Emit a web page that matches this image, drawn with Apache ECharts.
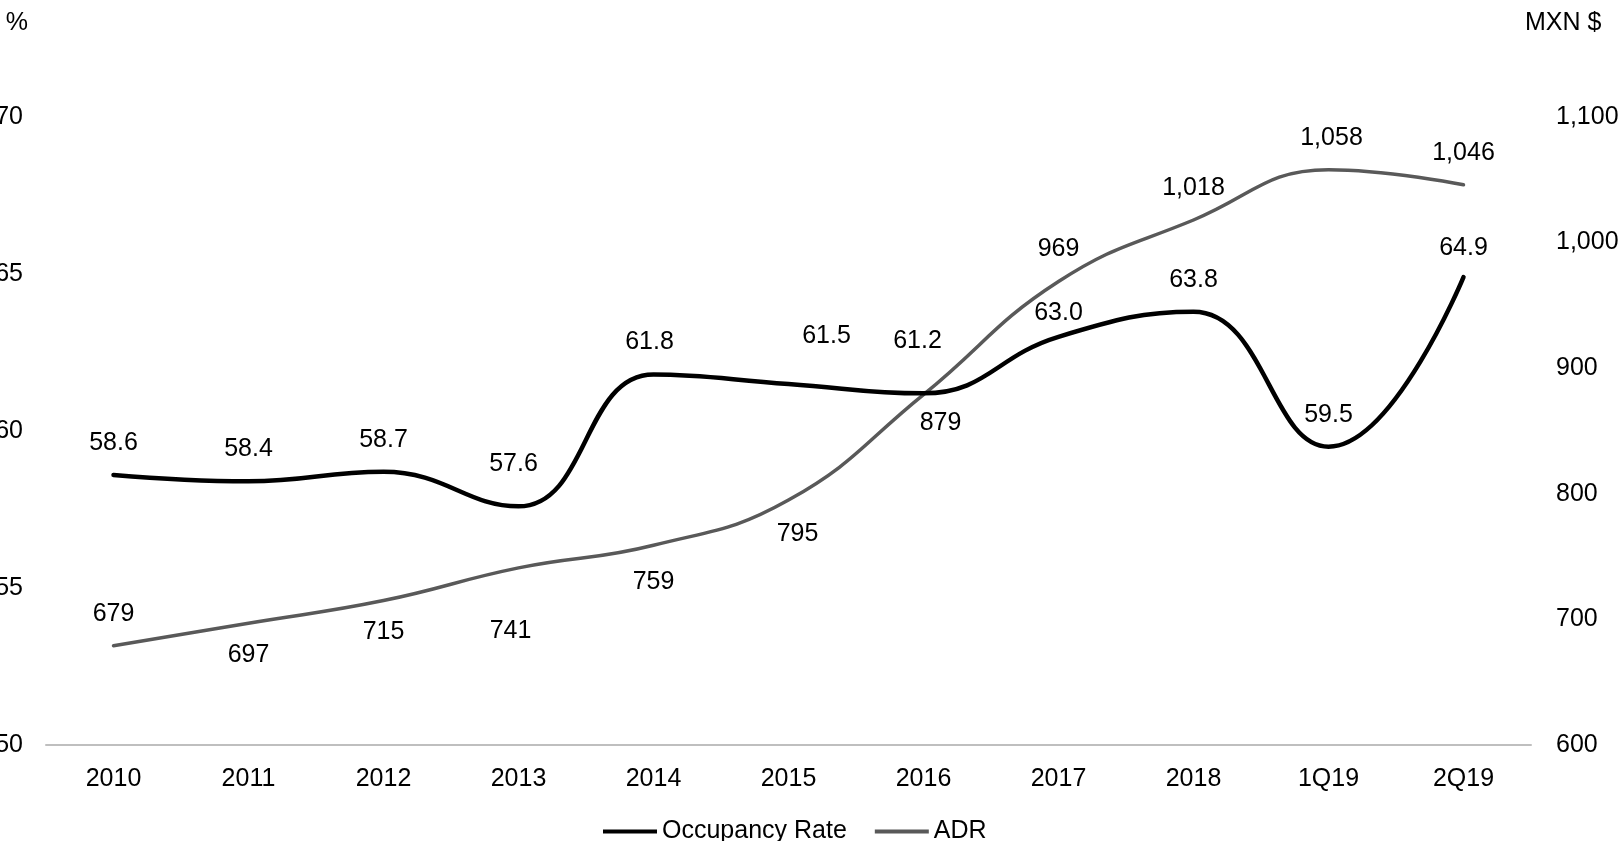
<!DOCTYPE html>
<html>
<head>
<meta charset="utf-8">
<script src="https://cdn.jsdelivr.net/npm/echarts@6/dist/echarts.min.js"></script>
<style>
  html, body { margin: 0; padding: 0; background: #fff; }
  #chart { width: 1623px; height: 841px; }
</style>
</head>
<body>
<div id="chart"></div>
<script>
// Categories and values
const categories = ['2010', '2011', '2012', '2013', '2014', '2015', '2016', '2017', '2018', '1Q19', '2Q19'];
const occupancyRate = [58.6, 58.4, 58.7, 57.6, 61.8, 61.5, 61.2, 63.0, 63.8, 59.5, 64.9];
const adr = [679, 697, 715, 741, 759, 795, 879, 969, 1018, 1058, 1046];

// Axis ranges and tick spacing
const leftAxis = { min: 50, max: 70, interval: 5 };
const rightAxis = { min: 600, max: 1100, interval: 100 };

// Label placement per point: [position, dx, dy]
const occLabelPlace = [
  ['top', 0, 0], ['top', 0, 0], ['top', 0, 0], ['top', -5, -10], ['top', -4, 0],
  ['top', 38, -16], ['top', -6, -20], ['top', 0, 8], ['top', 0, 0], ['top', 0, 0], ['top', 0, 3]
];
const adrLabelPlace = [
  ['top', 0, 0], ['bottom', 0, 0], ['bottom', 0, 0], ['bottom', -8, 31], ['bottom', 0, 5],
  ['bottom', 9, 2], ['bottom', 17, -3], ['top', 0, 0], ['top', 0, 0], ['top', 3, 0], ['top', 0, 0]
];

const FONT = 'Liberation Sans, Arial, sans-serif';
const FS = 25;
const OCC_COLOR = '#000000';
const ADR_COLOR = '#595959';

function fmtThousands(v) {
  return Math.round(v).toString().replace(/\B(?=(\d{3})+(?!\d))/g, ',');
}

function withLabels(values, places) {
  return values.map((v, i) => ({
    value: v,
    label: {
      position: places[i][0],
      offset: [places[i][1], places[i][2]]
    }
  }));
}

const chart = echarts.init(document.getElementById('chart'), null, { renderer: 'canvas' });

chart.setOption({
  backgroundColor: '#ffffff',
  animation: false,
  textStyle: { fontFamily: FONT },
  grid: { left: 46, right: 92, top: 117, bottom: 96, containLabel: false, outerBoundsMode: 'none' },
  legend: {
    left: 598,
    top: 814,
    itemWidth: 54,
    itemHeight: 4,
    itemGap: 28,
    textStyle: { fontFamily: FONT, fontSize: FS, color: '#000' },
    data: [
      { name: 'Occupancy Rate', icon: 'rect', itemStyle: { color: OCC_COLOR } },
      { name: 'ADR', icon: 'rect', itemStyle: { color: ADR_COLOR } }
    ]
  },
  xAxis: {
    type: 'category',
    data: categories,
    boundaryGap: true,
    axisLine: { lineStyle: { color: '#bfbfbf', width: 2 } },
    axisTick: { show: false },
    axisLabel: { color: '#000', fontFamily: FONT, fontSize: FS, margin: 22 },
    splitLine: { show: false }
  },
  yAxis: [
    {
      type: 'value',
      position: 'left',
      min: leftAxis.min, max: leftAxis.max, interval: leftAxis.interval,
      name: '%',
      nameLocation: 'end',
      nameGap: 81,
      nameTextStyle: { color: '#000', fontFamily: FONT, fontSize: FS, align: 'right', padding: [0, 18, 0, 0] },
      axisLine: { show: false },
      axisTick: { show: false },
      splitLine: { show: false },
      axisLabel: { color: '#000', fontFamily: FONT, fontSize: FS, margin: 23 }
    },
    {
      type: 'value',
      position: 'right',
      min: rightAxis.min, max: rightAxis.max, interval: rightAxis.interval,
      name: 'MXN $',
      nameLocation: 'end',
      nameGap: 81,
      nameTextStyle: { color: '#000', fontFamily: FONT, fontSize: FS, align: 'left', padding: [0, 0, 0, -6] },
      axisLine: { show: false },
      axisTick: { show: false },
      splitLine: { show: false },
      axisLabel: { color: '#000', fontFamily: FONT, fontSize: FS, margin: 25, formatter: fmtThousands }
    }
  ],
  series: [
    {
      name: 'Occupancy Rate',
      type: 'line',
      yAxisIndex: 0,
      smooth: 0.45,
      symbol: 'circle',
      symbolSize: 1,
      showSymbol: true,
      lineStyle: { color: OCC_COLOR, width: 4.5, cap: 'round' },
      itemStyle: { color: 'rgba(0,0,0,0)' },
      label: {
        show: true,
        distance: 19,
        color: '#000',
        fontFamily: FONT,
        fontSize: FS,
        formatter: p => p.value.toFixed(1)
      },
      data: withLabels(occupancyRate, occLabelPlace),
      z: 3
    },
    {
      name: 'ADR',
      type: 'line',
      yAxisIndex: 1,
      smooth: 0.45,
      symbol: 'circle',
      symbolSize: 1,
      showSymbol: true,
      lineStyle: { color: ADR_COLOR, width: 3.5, cap: 'round' },
      itemStyle: { color: 'rgba(0,0,0,0)' },
      label: {
        show: true,
        distance: 19,
        color: '#000',
        fontFamily: FONT,
        fontSize: FS,
        formatter: p => fmtThousands(p.value)
      },
      data: withLabels(adr, adrLabelPlace),
      z: 2
    }
  ]
});
</script>
</body>
</html>
